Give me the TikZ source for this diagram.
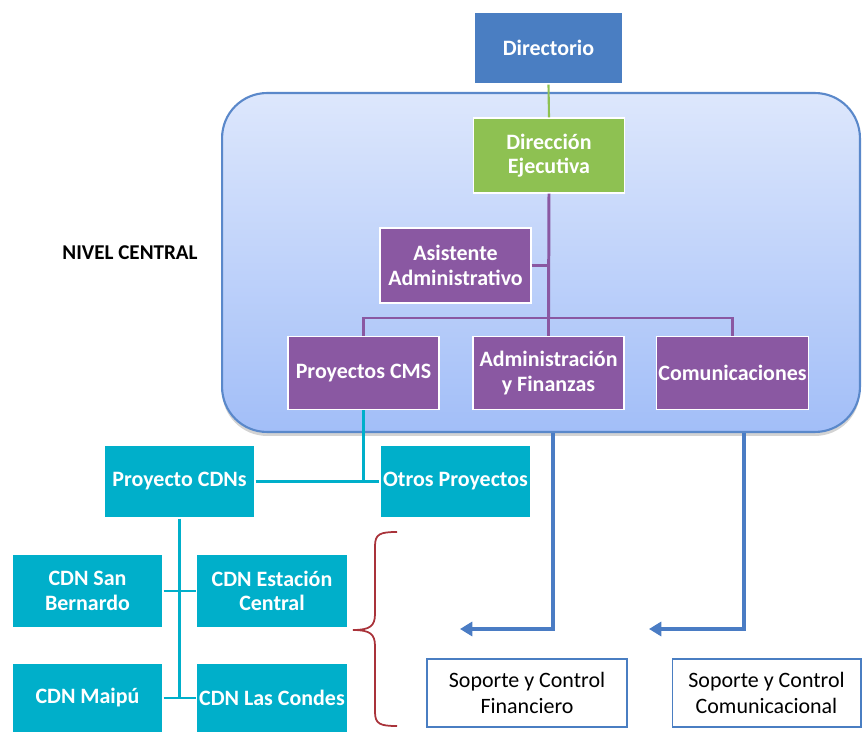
\documentclass[tikz,border=0pt]{standalone}
\usepackage{fontspec}
\setmainfont{Carlito}
\usepackage{xcolor}
\usetikzlibrary{positioning}
\usetikzlibrary{arrows.meta}
\usetikzlibrary{shadows}

\definecolor{azuldir}{HTML}{4A7EC2}
\definecolor{verdedir}{HTML}{8EC152}
\definecolor{morado}{HTML}{8A58A2}
\definecolor{cian}{HTML}{00AFCA}
\definecolor{azulflecha}{HTML}{4A7CC4}
\definecolor{bordenivel}{HTML}{5A88CA}
\definecolor{rojollave}{HTML}{A9333A}
\definecolor{nivelarriba}{HTML}{DDE7FC}
\definecolor{nivelabajo}{HTML}{A2BEF8}

\tikzset{
  caja/.style={draw=white, line width=0.7pt, text=white, align=center,
    font=\bfseries\fontsize{12.5}{14}\selectfont,
    minimum width=3.02cm, minimum height=1.46cm, inner sep=1pt},
  soporte/.style={draw=azuldir, line width=0.6pt, fill=white, text=black, align=center,
    font=\fontsize{12.5}{14.8}\selectfont, minimum height=1.36cm, inner sep=1pt},
  lineamorada/.style={morado, line width=1.7pt},
  lineacian/.style={cian, line width=1.7pt},
  flecha/.style={azulflecha, line width=2.8pt, -{Triangle[length=7pt,width=8pt]}},
}

\begin{document}
\begin{tikzpicture}[x=0.02cm, y=-0.02cm]

\useasboundingbox (0,0) rectangle (862,732);

% nivel central
\node[draw=bordenivel, line width=1.2pt, rounded corners=0.9cm, top color=nivelarriba, bottom color=nivelabajo,
  drop shadow={shadow xshift=0pt, shadow yshift=-0.08cm, opacity=0.35},
  minimum width=12.76cm, minimum height=6.78cm] (nc) at (541,262.5) {};
\node[font=\bfseries\fontsize{12}{14}\selectfont] (nivel) at (130,253) {NIVEL CENTRAL};

\node[caja, fill=azuldir, minimum width=2.98cm, minimum height=1.44cm] (dir) at (548.5,48) {Directorio};
\node[caja, fill=verdedir, minimum height=1.5cm] (dej) at (549,155.5) {Dirección\\Ejecutiva};
\node[caja, fill=morado, minimum height=1.5cm] (asis) at (455.5,265.5) {Asistente\\Administrativo};
\node[caja, fill=morado] (pcms) at (363.5,373) {Proyectos CMS};
\node[caja, fill=morado] (adm) at (548.5,373) {Administración\\y Finanzas};
\node[caja, fill=morado] (com) at (732.5,373) {Comunicaciones};

% proyectos
\node[caja, fill=cian] (pcdn) at (179.5,481.5) {Proyecto CDNs};
\node[caja, fill=cian] (otros) at (455.5,481.5) {Otros Proyectos};
\node[caja, fill=cian] (sanb) at (87.5,591) {CDN San\\Bernardo};
\node[caja, fill=cian] (est) at (272,591) {CDN Estación\\Central};
\node[caja, fill=cian, minimum height=1.4cm] (maipu) at (87.5,698) {CDN Maipú};
\node[caja, fill=cian, minimum height=1.4cm] (lasc) at (272,698) {CDN Las Condes};

\node[soporte, minimum width=4cm] (sopf) at (527,693) {Soporte y Control\\Financiero};
\node[soporte, minimum width=3.78cm] (sopc) at (766.5,693) {Soporte y Control\\Comunicacional};

% conectores
\draw[verdedir, line width=1.2pt] (dir.south) -- (dej.north);

\coordinate (cruce) at (548.5,318);
\draw[lineamorada] (dej.south) -- (cruce);
\draw[lineamorada] (asis.east) -- (asis.east -| cruce);
\draw[lineamorada] (pcms.north) |- (cruce) -| (com.north);
\draw[lineamorada] (cruce) -- (adm.north);

\draw[lineacian] (pcms.south) -- (pcms.south |- otros.west);
\draw[lineacian] (pcdn.east) -- (otros.west);
\draw[lineacian] (pcdn.south) -- (pcdn.south |- lasc.west);
\draw[lineacian] (sanb.east) -- (est.west);
\draw[lineacian] (maipu.east) -- (lasc.west);

\coordinate (puntaf) at (460,629);
\coordinate (puntac) at (649,629);
\draw[flecha] ([xshift=0.09cm]adm.south |- nc.south) |- (puntaf);
\draw[flecha] ([xshift=0.23cm]com.south |- nc.south) |- (puntac);

% llave
\draw[rojollave, line width=1pt] (397,532) .. controls (380,532) and (375,534) .. (375,546) -- (375,614)
  .. controls (375,626) and (370,630) .. (353,630) .. controls (370,630) and (375,634) .. (375,646)
  -- (375,712) .. controls (375,724) and (380,726) .. (397,726);

\end{tikzpicture}
\end{document}
